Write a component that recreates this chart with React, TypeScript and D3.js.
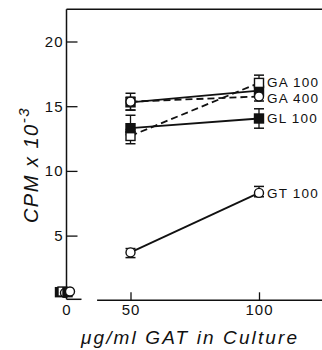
import React, { useEffect, useRef } from 'react';
import * as d3 from 'd3';

// doses on the x axis (0 is drawn on a broken axis)
const doses = [50, 100];

const ga100Mean = [12.7, 16.8];
const ga100Lo = [12.1, 16.3];
const ga100Hi = [13.2, 17.4];

const ga400Mean = [15.35, 15.75];
const ga400Lo = [14.7, 15.4];
const ga400Hi = [16.0, 16.1];

const otherMean = [15.3, 16.2];
const otherLo = [14.7, 15.9];
const otherHi = [15.7, 16.5];

const gl100Mean = [13.3, 14.05];
const gl100Lo = [12.8, 13.3];
const gl100Hi = [14.3, 14.8];

const gt100Mean = [3.7, 8.3];
const gt100Lo = [3.3, 8.0];
const gt100Hi = [4.0, 8.8];

// background counts at dose 0
const backgroundValues = [0.55, 0.6, 0.5, 0.55, 0.6];

const yTicks = [5, 10, 15, 20];
const xTicks = [50, 100];

const series = [
  { name: '', mean: otherMean, lo: otherLo, hi: otherHi, marker: 'square', filled: true, dashed: false },
  { name: 'GA 100', mean: ga100Mean, lo: ga100Lo, hi: ga100Hi, marker: 'square', filled: false, dashed: true },
  { name: 'GA 400', mean: ga400Mean, lo: ga400Lo, hi: ga400Hi, marker: 'circle', filled: false, dashed: true },
  { name: 'GL 100', mean: gl100Mean, lo: gl100Lo, hi: gl100Hi, marker: 'square', filled: true, dashed: false },
  { name: 'GT 100', mean: gt100Mean, lo: gt100Lo, hi: gt100Hi, marker: 'circle', filled: false, dashed: false },
];

const labelNudge: { [k: string]: number } = { 'GA 100': -1, 'GA 400': 1.5, 'GL 100': 0, 'GT 100': 0 };

export default function App() {
  const ref = useRef<SVGSVGElement>(null);

  useEffect(() => {
    const svg = d3.select(ref.current);
    svg.selectAll('*').remove();

    const axisX = 66.5;
    const x0 = 65;
    const width = 322;

    const x = d3.scaleLinear().domain([50, 100]).range([130.5, 259]);
    const y = d3.scaleLinear().domain([0, 20]).range([300.3, 41.5]);
    const yTop = y(22.5);

    const ink = '#111';
    const font = 'Liberation Sans, Arial, Helvetica, sans-serif';

    // frame: top line and y axis
    svg.append('line')
      .attr('x1', axisX).attr('x2', width)
      .attr('y1', yTop).attr('y2', yTop)
      .attr('stroke', ink).attr('stroke-width', 1.5);
    svg.append('line')
      .attr('x1', axisX).attr('x2', axisX)
      .attr('y1', yTop).attr('y2', y(0) - 1)
      .attr('stroke', ink).attr('stroke-width', 1.5);

    // broken x axis
    svg.append('line')
      .attr('x1', axisX).attr('x2', axisX + 15)
      .attr('y1', y(0) - 1).attr('y2', y(0) - 1)
      .attr('stroke', ink).attr('stroke-width', 1.5);
    svg.append('line')
      .attr('x1', x(37)).attr('x2', width)
      .attr('y1', y(0)).attr('y2', y(0))
      .attr('stroke', ink).attr('stroke-width', 1.5);

    // y axis ticks + labels
    const yAxis = svg.append('g')
      .attr('transform', `translate(${axisX},0)`)
      .call(d3.axisLeft(y).tickValues(yTicks).tickSize(-11).tickPadding(3));
    yAxis.select('.domain').remove();
    yAxis.selectAll('line').attr('stroke', ink).attr('stroke-width', 1.3);
    yAxis.selectAll('text')
      .attr('font-family', font).attr('font-size', 15).attr('letter-spacing', 1).attr('fill', ink);

    // x axis ticks + labels
    const xAxis = svg.append('g')
      .attr('transform', `translate(0,${y(0)})`)
      .call(d3.axisBottom(x).tickValues(xTicks).tickSize(-8).tickPadding(4));
    xAxis.select('.domain').remove();
    xAxis.selectAll('line').attr('stroke', ink).attr('stroke-width', 1.3);
    xAxis.selectAll('text')
      .attr('font-family', font).attr('font-size', 15).attr('letter-spacing', 1).attr('fill', ink);
    svg.append('text')
      .attr('x', axisX).attr('y', y(0) + 15)
      .attr('text-anchor', 'middle')
      .attr('font-family', font).attr('font-size', 15).attr('fill', ink)
      .text('0');

    // axis titles
    svg.append('text')
      .attr('x', 81).attr('y', 344)
      .attr('textLength', 216).attr('lengthAdjust', 'spacing')
      .attr('font-family', font).attr('font-size', 19).attr('font-style', 'italic')
      .attr('fill', ink)
      .text('\u03bcg/ml GAT in Culture');

    const yt = svg.append('text')
      .attr('transform', 'translate(38,165) rotate(-90)')
      .attr('text-anchor', 'middle')
      .attr('font-family', font).attr('font-size', 20).attr('font-style', 'italic')
      .attr('letter-spacing', 1.5)
      .attr('fill', ink);
    yt.append('tspan').text('CPM x 10');
    yt.append('tspan').attr('dy', -9).attr('font-size', 15).text('-3');

    const line = d3.line<number>()
      .x((_, i) => x(doses[i]))
      .y((d) => y(d));

    const drawMarker = (g: any, cx: number, cy: number, marker: string, filled: boolean) => {
      if (marker === 'circle') {
        g.append('circle')
          .attr('cx', cx).attr('cy', cy).attr('r', 4.5)
          .attr('fill', filled ? ink : '#fff').attr('stroke', ink).attr('stroke-width', 1.4);
      } else {
        g.append('rect')
          .attr('x', cx - 4.5).attr('y', cy - 4.5).attr('width', 9).attr('height', 9)
          .attr('fill', filled ? ink : '#fff').attr('stroke', ink).attr('stroke-width', 1.4);
      }
    };

    // lines
    series.forEach((s) => {
      svg.append('path')
        .attr('d', line(s.mean))
        .attr('fill', 'none')
        .attr('stroke', ink)
        .attr('stroke-width', 1.8)
        .attr('stroke-dasharray', s.dashed ? '7,4' : null);
    });

    // error bars
    series.forEach((s) => {
      const g = svg.append('g');
      doses.forEach((d, i) => {
        const cx = x(d);
        g.append('line')
          .attr('x1', cx).attr('x2', cx)
          .attr('y1', y(s.lo[i])).attr('y2', y(s.hi[i]))
          .attr('stroke', ink).attr('stroke-width', 1.3);
        [s.lo[i], s.hi[i]].forEach((v) => {
          g.append('line')
            .attr('x1', cx - 5).attr('x2', cx + 5)
            .attr('y1', y(v)).attr('y2', y(v))
            .attr('stroke', ink).attr('stroke-width', 1.5);
        });
      });
    });

    // markers
    series.forEach((s) => {
      const g = svg.append('g');
      doses.forEach((d, i) => drawMarker(g, x(d), y(s.mean[i]), s.marker, s.filled));
    });

    // background markers at dose 0
    const bgX = d3.scalePoint<number>()
      .domain(d3.range(backgroundValues.length))
      .range([x0 - 5, x0 + 5]);
    const bg = svg.append('g');
    backgroundValues.forEach((v, i) => {
      const s = series[i];
      drawMarker(bg, bgX(i) as number, y(v) - 1, s.marker, s.filled);
    });

    // labels
    series.forEach((s) => {
      if (!s.name) return;
      svg.append('text')
        .attr('x', x(100) + 8)
        .attr('y', y(s.mean[1]) + (labelNudge[s.name] || 0))
        .attr('dy', '0.36em')
        .attr('font-family', font).attr('font-size', 13.5).attr('letter-spacing', 1.2)
        .attr('fill', ink)
        .text(s.name);
    });
  }, []);

  return (
    <svg
      ref={ref}
      width={322}
      height={350}
      style={{ position: 'absolute', left: 0, top: 0, background: '#fff' }}
    />
  );
}
